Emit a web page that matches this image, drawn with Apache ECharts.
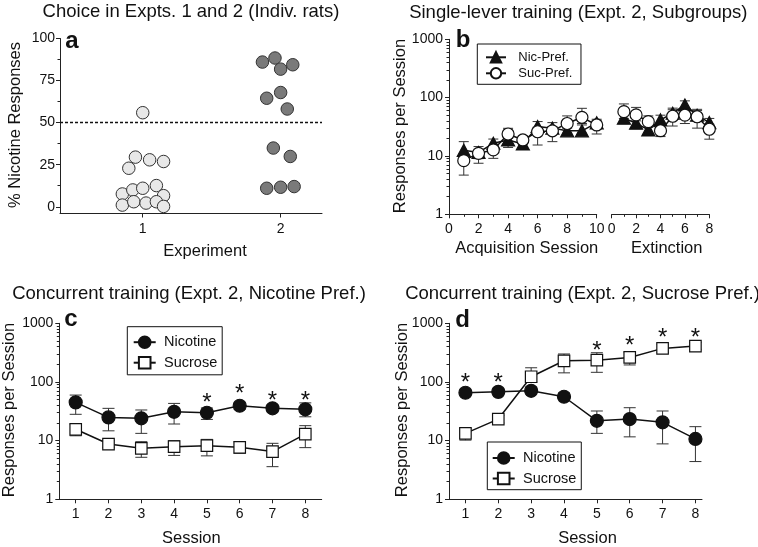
<!DOCTYPE html>
<html>
<head>
<meta charset="utf-8">
<script src="https://cdn.jsdelivr.net/npm/echarts@6.0.0/dist/echarts.min.js"></script>
<style>
  html, body { margin: 0; padding: 0; background: #fff; }
  #chart { width: 758px; height: 547px; }
</style>
</head>
<body>
<div id="chart"></div>
<script>
// ---- panel a: individual rats (% nicotine responses) ----
var exp1X = [1.0, 0.899, 0.947, 1.05, 1.151, 0.852, 0.928, 1.0, 1.099, 1.151, 0.852, 0.935, 1.024, 1.099, 1.151];
var exp1Y = [55.9, 22.9, 29.5, 27.9, 26.9, 7.6, 10.0, 11.0, 12.6, 6.6, 1.0, 3.0, 2.2, 3.0, 0.2];
var exp2X = [1.868, 1.959, 2.0, 2.088, 1.899, 2.0, 2.048, 1.947, 2.07, 1.899, 2.0, 2.098];
var exp2Y = [86.0, 88.4, 81.8, 84.4, 64.5, 67.9, 58.1, 34.9, 29.9, 11.0, 11.6, 12.0];
var aTicks = [0, 25, 50, 75, 100];
var aMinorTicks = [12.5, 37.5, 62.5, 87.5];
var aCats = [1, 2];

// ---- panel b: single-lever training ----
var acqSessions = [1, 2, 3, 4, 5, 6, 7, 8, 9, 10];
var bAcqNic = [12.5, 11.5, 16.5, 18.8, 16.1, 32, 30, 27, 27, 37];
var bAcqNicHi = [17.6, 14.5, 19.5, 29.8, 19, 38.9, 37.3, 33, 34, 42.6];
var bAcqNicLo = [9.5, 9, 14, 14, 14, 27, 25, 24.5, 24.5, 31];
var bAcqSuc = [8.3, 11.1, 12.7, 23.8, 18.8, 26, 27, 36, 46, 34];
var bAcqSucHi = [10, 13, 15, 27, 22, 31, 32, 48.6, 65.6, 40];
var bAcqSucLo = [4.7, 7.5, 9.1, 20, 16, 15.4, 17.6, 30, 36, 23.8];
var extSessions = [1, 2, 3, 4, 5, 6, 7, 8];
var bExtNic = [44.5, 36.4, 28, 41.5, 54, 75, 50, 37.4];
var bExtNicHi = [55, 44, 33, 50, 62, 88, 60, 44];
var bExtNicLo = [36.4, 30, 24, 34, 46, 62, 42, 31];
var bExtSuc = [57.5, 50.5, 38.7, 27.1, 48, 50, 47, 28.7];
var bExtSucHi = [78, 68, 48.6, 33, 66, 62, 63, 35];
var bExtSucLo = [44, 40, 31, 21.5, 32.6, 36, 30, 19.4];

// ---- panels c, d: concurrent training ----
var sessions = [1, 2, 3, 4, 5, 6, 7, 8];
var cNic = [44.9, 24.9, 24.0, 31, 29.9, 39.3, 35.5, 34.2];
var cNicHi = [59.8, 35.5, 33.3, 43.1, 36, 45, 41, 44];
var cNicLo = [28.1, 14.7, 13.3, 19.2, 23, 34, 31, 25.5];
var cSuc = [15.6, 8.75, 7.4, 7.9, 8.2, 7.7, 6.5, 12.9];
var cSucHi = [19, 10, 9.6, 10, 10.5, 9.5, 9, 18];
var cSucLo = [12.1, 7.6, 5.2, 5.6, 5.5, 6.1, 3.6, 7.6];
var cStarX = [5, 6, 7, 8];
var cStarY = [52.6, 75.7, 57.5, 57.5];

var dNic = [65.5, 67.8, 70.7, 56, 21.8, 23.3, 20.5, 10.7];
var dNicHi = [75, 78, 82, 65, 32, 36.4, 32, 17.3];
var dNicLo = [58, 60, 62, 50, 13.3, 11.6, 8.8, 4.4];
var dSuc = [13.3, 23.3, 122.7, 229.6, 235, 262, 373.5, 409];
var dSucHi = [16, 27, 174.6, 300, 315, 320, 440, 470];
var dSucLo = [10.2, 20, 100, 143, 146, 195, 320, 360];
var dStarX = [1, 2, 5, 6, 7, 8];
var dStarY = [115, 115, 398, 484, 673, 673];

var logMinorTicks = [2, 3, 4, 5, 6, 7, 8, 9, 20, 30, 40, 50, 60, 70, 80, 90, 200, 300, 400, 500, 600, 700, 800, 900];

var FONT = '"Liberation Sans", Arial, Helvetica, sans-serif';
var INK = '#111';
var AXIS = '#222';

var chart = echarts.init(document.getElementById('chart'));

function pairs(xs, ys) {
  return xs.map(function (x, i) { return [x, ys[i]]; });
}

function xAxisOf(grid, min, max, extra) {
  var ax = {
    type: 'value', gridIndex: grid, min: min, max: max, position: 'bottom',
    axisLine: { show: true, onZero: false, lineStyle: { color: AXIS, width: 1 } },
    axisTick: { show: true, length: 4, lineStyle: { color: AXIS } },
    axisLabel: { color: INK, fontSize: 14, fontFamily: FONT, margin: 8 },
    splitLine: { show: false }
  };
  return Object.assign(ax, extra || {});
}

function logY(grid) {
  return {
    type: 'log', logBase: 10, gridIndex: grid, min: 1, max: 1000, position: 'left',
    axisLine: { show: true, onZero: false, lineStyle: { color: AXIS, width: 1 } },
    axisTick: { show: true, length: 4, lineStyle: { color: AXIS } },
    axisLabel: {
      color: INK, fontSize: 14, fontFamily: FONT, margin: 6,
      formatter: function (v) { return String(Math.round(v)); }
    },
    splitLine: { show: false }
  };
}

// second axis on the same side, only for the short log minor ticks
function logMinorY(grid) {
  return {
    type: 'log', logBase: 10, gridIndex: grid, min: 1, max: 1000, position: 'left', offset: 0,
    axisLine: { show: false, onZero: false },
    axisTick: { show: true, length: 2.5, customValues: logMinorTicks, lineStyle: { color: AXIS } },
    axisLabel: { show: false },
    splitLine: { show: false }
  };
}

function errSeries(xi, yi, xs, lo, hi, cap) {
  return {
    type: 'custom', xAxisIndex: xi, yAxisIndex: yi, z: 1, silent: true,
    data: xs.map(function (x, i) { return [x, lo[i], hi[i]]; }),
    encode: { x: 0, y: [1, 2] },
    renderItem: function (params, api) {
      var p1 = api.coord([api.value(0), api.value(1)]);
      var p2 = api.coord([api.value(0), api.value(2)]);
      var hw = cap / 2;
      var st = { stroke: '#333', lineWidth: 1 };
      return {
        type: 'group',
        children: [
          { type: 'line', shape: { x1: p1[0], y1: p1[1], x2: p2[0], y2: p2[1] }, style: st },
          { type: 'line', shape: { x1: p1[0] - hw, y1: p1[1], x2: p1[0] + hw, y2: p1[1] }, style: st },
          { type: 'line', shape: { x1: p2[0] - hw, y1: p2[1], x2: p2[0] + hw, y2: p2[1] }, style: st }
        ]
      };
    }
  };
}

function lineSeries(name, xi, yi, xs, ys, symbol, size, fill, z) {
  return {
    name: name, type: 'line', xAxisIndex: xi, yAxisIndex: yi, z: z,
    data: pairs(xs, ys),
    symbol: symbol, symbolSize: size, showAllSymbol: true,
    lineStyle: { color: INK, width: 1.5 },
    itemStyle: { color: fill, borderColor: INK, borderWidth: 1.2 },
    emphasis: { disabled: true },
    animation: false
  };
}

function starSeries(xi, yi, xs, ys) {
  return {
    type: 'custom', xAxisIndex: xi, yAxisIndex: yi, z: 5, silent: true,
    data: pairs(xs, ys),
    renderItem: function (params, api) {
      var pt = api.coord([api.value(0), api.value(1)]);
      return {
        type: 'text', x: pt[0], y: pt[1] + 5,
        style: { text: '*', fontSize: 24, fontFamily: FONT, fill: INK, align: 'center', verticalAlign: 'middle' }
      };
    }
  };
}

function txt(s, x, y, size, rot, weight) {
  return {
    type: 'text', x: x, y: y, rotation: rot || 0, silent: true,
    style: {
      text: s, fontSize: size, fontFamily: FONT, fontWeight: weight || 'normal',
      fill: INK, align: 'center', verticalAlign: 'middle'
    }
  };
}

var option = {
  backgroundColor: '#fff',
  animation: false,
  grid: [
    { left: 60, top: 38.5, width: 262, height: 175 },        // a
    { left: 449, top: 39.3, width: 147.7, height: 175 },     // b acquisition
    { left: 611.7, top: 39.3, width: 97.6, height: 175 },    // b extinction
    { left: 59.3, top: 323.3, width: 262.4, height: 176 },   // c
    { left: 449, top: 323.3, width: 253, height: 176 }       // d
  ],
  xAxis: [
    xAxisOf(0, 0.4, 2.3, {
      axisLabel: { color: INK, fontSize: 14, fontFamily: FONT, margin: 9, customValues: aCats },
      axisTick: { show: true, length: 4, customValues: aCats, lineStyle: { color: AXIS } }
    }),
    xAxisOf(1, 0, 10, { interval: 2, minorTick: { show: true, splitNumber: 2, length: 2.5, lineStyle: { color: AXIS } } }),
    xAxisOf(2, 0, 8, { interval: 2, minorTick: { show: true, splitNumber: 2, length: 2.5, lineStyle: { color: AXIS } } }),
    xAxisOf(3, 0.5, 8.5, {
      axisLabel: { color: INK, fontSize: 14, fontFamily: FONT, margin: 8, customValues: sessions },
      axisTick: { show: true, length: 4, customValues: sessions, lineStyle: { color: AXIS } }
    }),
    xAxisOf(4, 0.5, 8.2, {
      axisLabel: { color: INK, fontSize: 14, fontFamily: FONT, margin: 8, customValues: sessions },
      axisTick: { show: true, length: 4, customValues: sessions, lineStyle: { color: AXIS } }
    })
  ],
  yAxis: [
    {
      type: 'value', gridIndex: 0, min: -4, max: 100, position: 'left',
      axisLine: { show: true, onZero: false, lineStyle: { color: AXIS, width: 1 } },
      axisTick: { show: true, length: 4, customValues: aTicks, lineStyle: { color: AXIS } },
      axisLabel: { color: INK, fontSize: 14, fontFamily: FONT, margin: 5, customValues: aTicks },
      splitLine: { show: false }
    },
    {
      type: 'value', gridIndex: 0, min: -4, max: 100, position: 'left', offset: 0,
      axisLine: { show: false, onZero: false },
      axisTick: { show: true, length: 2.5, customValues: aMinorTicks, lineStyle: { color: AXIS } },
      axisLabel: { show: false },
      splitLine: { show: false }
    },
    logY(1),
    logMinorY(1),
    { type: 'log', logBase: 10, gridIndex: 2, min: 1, max: 1000, show: false },
    logY(3),
    logMinorY(3),
    logY(4),
    logMinorY(4)
  ],
  legend: [
    {
      data: ['Nic-Pref.', 'Suc-Pref.'], selectedMode: false, orient: 'vertical',
      left: 477.3, top: 44, padding: [6.8, 8.5, 4.5, 7.7],
      itemWidth: 20, itemHeight: 13, itemGap: 3,
      borderColor: INK, borderWidth: 1, borderRadius: 0,
      textStyle: { fontSize: 13, fontFamily: FONT, color: INK, padding: [0, 0, 0, 7.3] }
    },
    {
      data: ['Nicotine', 'Sucrose'], selectedMode: false, orient: 'vertical',
      left: 127.3, top: 326.7, padding: [8, 5, 4.6, 5.4],
      itemWidth: 22, itemHeight: 14.5, itemGap: 5.5,
      borderColor: INK, borderWidth: 1, borderRadius: 0,
      textStyle: { fontSize: 14.5, fontFamily: FONT, color: INK, padding: [0, 0, 0, 3.3] }
    },
    {
      data: ['Nicotine', 'Sucrose'], selectedMode: false, orient: 'vertical',
      left: 487.3, top: 442, padding: [8.5, 5, 3.7, 4.4],
      itemWidth: 22, itemHeight: 14.5, itemGap: 5.5,
      borderColor: INK, borderWidth: 1, borderRadius: 0,
      textStyle: { fontSize: 14.5, fontFamily: FONT, color: INK, padding: [0, 0, 0, 3.4] }
    }
  ],
  series: [
    // a
    {
      type: 'scatter', xAxisIndex: 0, yAxisIndex: 0, z: 3,
      data: pairs(exp1X, exp1Y), symbolSize: 12.5,
      itemStyle: { color: '#e8e8e8', borderColor: '#333', borderWidth: 1, opacity: 1 },
      markLine: {
        silent: true, symbol: 'none', label: { show: false },
        lineStyle: { color: INK, type: [3, 2], width: 1.3 },
        data: [{ yAxis: 50 }]
      }
    },
    {
      type: 'scatter', xAxisIndex: 0, yAxisIndex: 0, z: 3,
      data: pairs(exp2X, exp2Y), symbolSize: 12.5,
      itemStyle: { color: '#7a7a7a', borderColor: '#333', borderWidth: 1, opacity: 1 }
    },
    // b acquisition
    errSeries(1, 2, acqSessions, bAcqNicLo, bAcqNicHi, 10),
    errSeries(1, 2, acqSessions, bAcqSucLo, bAcqSucHi, 10),
    lineSeries('Nic-Pref.', 1, 2, acqSessions, bAcqNic, 'triangle', [13, 12], INK, 3),
    lineSeries('Suc-Pref.', 1, 2, acqSessions, bAcqSuc, 'circle', 12, '#fff', 4),
    // b extinction
    errSeries(2, 4, extSessions, bExtNicLo, bExtNicHi, 10),
    errSeries(2, 4, extSessions, bExtSucLo, bExtSucHi, 10),
    lineSeries('Nic-Pref.', 2, 4, extSessions, bExtNic, 'triangle', [13, 12], INK, 3),
    lineSeries('Suc-Pref.', 2, 4, extSessions, bExtSuc, 'circle', 12, '#fff', 4),
    // c
    errSeries(3, 5, sessions, cNicLo, cNicHi, 12),
    errSeries(3, 5, sessions, cSucLo, cSucHi, 12),
    lineSeries('Nicotine', 3, 5, sessions, cNic, 'circle', 13, INK, 3),
    lineSeries('Sucrose', 3, 5, sessions, cSuc, 'rect', 11.5, '#fff', 4),
    starSeries(3, 5, cStarX, cStarY),
    // d
    errSeries(4, 7, sessions, dNicLo, dNicHi, 12),
    errSeries(4, 7, sessions, dSucLo, dSucHi, 12),
    lineSeries('Nicotine', 4, 7, sessions, dNic, 'circle', 13, INK, 3),
    lineSeries('Sucrose', 4, 7, sessions, dSuc, 'rect', 11.5, '#fff', 4),
    starSeries(4, 7, dStarX, dStarY)
  ],
  graphic: [
    txt('Choice in Expts. 1 and 2 (Indiv. rats)', 191, 12, 18.5),
    txt('Single-lever training (Expt. 2, Subgroups)', 578.3, 12.5, 18.5),
    txt('Concurrent training (Expt. 2, Nicotine Pref.)', 189, 293.5, 18.5),
    txt('Concurrent training (Expt. 2, Sucrose Pref.)', 582.5, 294, 18.5),
    txt('% Nicotine Responses', 15.5, 125, 16.5, Math.PI / 2),
    txt('Experiment', 205, 251.5, 16.5),
    txt('Responses per Session', 400.5, 126, 16.5, Math.PI / 2),
    txt('Acquisition Session', 526.7, 248.3, 16.5),
    txt('Extinction', 666.7, 248.3, 16.5),
    txt('Responses per Session', 9, 410, 16.5, Math.PI / 2),
    txt('Session', 191.3, 538.8, 16.5),
    txt('Responses per Session', 402, 410, 16.5, Math.PI / 2),
    txt('Session', 587.5, 538.8, 16.5),
    txt('a', 72, 41, 24, 0, 'bold'),
    txt('b', 463, 40.4, 24, 0, 'bold'),
    txt('c', 70.8, 319, 24, 0, 'bold'),
    txt('d', 462.7, 320, 24, 0, 'bold')
  ]
};

chart.setOption(option);
</script>
</body>
</html>
